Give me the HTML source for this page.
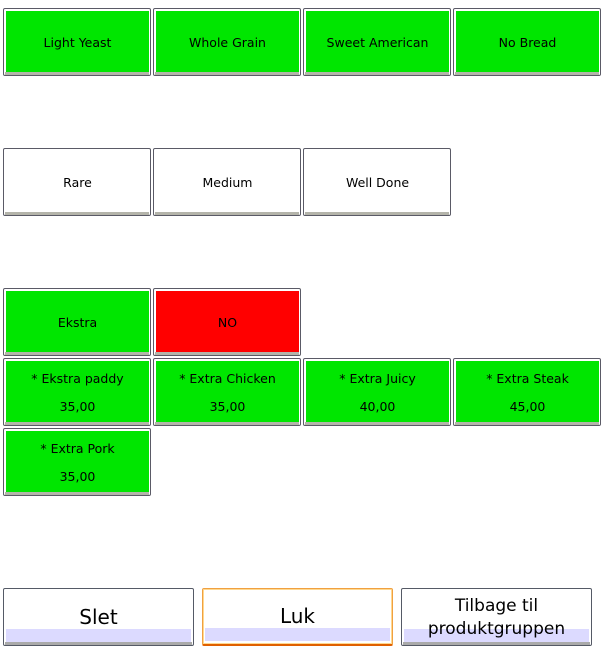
<!DOCTYPE html>
<html><head><style>
body{margin:0;width:609px;height:654px;background:#fff;position:relative;overflow:hidden;font-family:"DejaVu Sans","Liberation Sans",sans-serif;}
.t{position:absolute;width:146px;height:66px;border:1px solid #5a5a66;border-radius:2px;background:#fff;}
.t .f{position:absolute;left:2px;top:2px;right:1px;bottom:3px;font-size:12.5px;color:#000;text-align:center}
.t .f span{position:absolute;left:0;right:0;line-height:16px}
.t .b{position:absolute;left:1px;right:1px;bottom:0;height:3px;background:#b4b4aa}
.g .f{background:#00e600}
.r .f{background:#ff0000}
.w .f{background:#fff}
.bb{position:absolute;top:588px;width:189px;height:56px;border:1px solid #555a66;border-radius:2px;background:#fff;overflow:hidden}
.bb .l{position:absolute;left:2px;right:2px;bottom:3px;height:13px;background:#dcdaff}
.bb .s{position:absolute;left:1px;right:1px;bottom:0;height:3px;background:#aaa}
.bb .x{position:absolute;left:0;right:0;top:0;bottom:0;display:flex;align-items:center;justify-content:center;text-align:center;font-size:20px;line-height:23px}
</style></head><body>
<div class="t g" style="left:3px;top:8px"><div class="f"><span style="top:24px">Light Yeast</span></div><div class="b"></div></div>
<div class="t g" style="left:153px;top:8px"><div class="f"><span style="top:24px">Whole Grain</span></div><div class="b"></div></div>
<div class="t g" style="left:303px;top:8px"><div class="f"><span style="top:24px">Sweet American</span></div><div class="b"></div></div>
<div class="t g" style="left:453px;top:8px"><div class="f"><span style="top:24px">No Bread</span></div><div class="b"></div></div>

<div class="t w" style="left:3px;top:148px"><div class="f"><span style="top:24px">Rare</span></div><div class="b"></div></div>
<div class="t w" style="left:153px;top:148px"><div class="f"><span style="top:24px">Medium</span></div><div class="b"></div></div>
<div class="t w" style="left:303px;top:148px"><div class="f"><span style="top:24px">Well Done</span></div><div class="b"></div></div>

<div class="t g" style="left:3px;top:288px"><div class="f"><span style="top:24px">Ekstra</span></div><div class="b"></div></div>
<div class="t r" style="left:153px;top:288px"><div class="f"><span style="top:24px">NO</span></div><div class="b"></div></div>

<div class="t g" style="left:3px;top:358px"><div class="f"><span style="top:10px">* Ekstra paddy</span><span style="top:38px">35,00</span></div><div class="b"></div></div>
<div class="t g" style="left:153px;top:358px"><div class="f"><span style="top:10px">* Extra Chicken</span><span style="top:38px">35,00</span></div><div class="b"></div></div>
<div class="t g" style="left:303px;top:358px"><div class="f"><span style="top:10px">* Extra Juicy</span><span style="top:38px">40,00</span></div><div class="b"></div></div>
<div class="t g" style="left:453px;top:358px"><div class="f"><span style="top:10px">* Extra Steak</span><span style="top:38px">45,00</span></div><div class="b"></div></div>
<div class="t g" style="left:3px;top:428px"><div class="f"><span style="top:10px">* Extra Pork</span><span style="top:38px">35,00</span></div><div class="b"></div></div>

<div class="bb" style="left:3px"><div class="l"></div><div class="s"></div><div class="x">Slet</div></div>
<div class="bb" style="left:202px;border:1px solid #f0a040;border-bottom:2px solid #e06000;height:55px;box-shadow:inset 0 0 0 1px #ffd890"><div class="l"></div><div class="x">Luk</div></div>
<div class="bb" style="left:401px"><div class="l"></div><div class="s"></div><div class="x" style="font-size:17px;line-height:23px;padding-top:2px">Tilbage til<br>produktgruppen</div></div>
</body></html>
